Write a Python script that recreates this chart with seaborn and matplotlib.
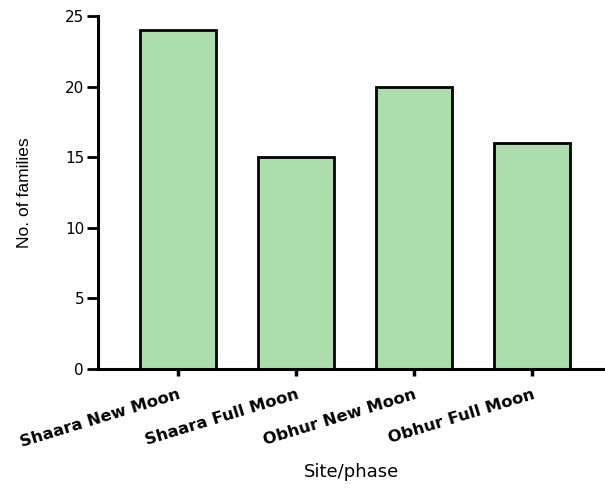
import matplotlib
matplotlib.use("Agg")
import matplotlib.pyplot as plt
import seaborn as sns
import pandas as pd

# Families recorded per site and lunar phase
categories = ["Shaara New Moon", "Shaara Full Moon", "Obhur New Moon", "Obhur Full Moon"]
families = [24, 15, 20, 16]

df = pd.DataFrame({"phase": categories, "families": families})

sns.set_theme(style="white")
plt.rcParams["font.family"] = ["DejaVu Sans"]
plt.rcParams["text.color"] = "black"
plt.rcParams["axes.labelcolor"] = "black"
plt.rcParams["xtick.color"] = "black"
plt.rcParams["ytick.color"] = "black"

fig = plt.figure(figsize=(6.05, 4.88), dpi=100)
ax = fig.add_axes([0.162, 0.244, 0.838, 0.723])

sns.barplot(data=df, x="phase", y="families", color="#ACDEAC", saturation=1,
            width=0.645, edgecolor="black", linewidth=2, ax=ax)

ax.set_xlim(-0.678, 3.62)
ax.set_ylim(0, 25)
ax.set_yticks([0, 5, 10, 15, 20, 25])

for side in ["top", "right"]:
    ax.spines[side].set_visible(False)
for side in ["left", "bottom"]:
    ax.spines[side].set_linewidth(2.2)
    ax.spines[side].set_color("black")

ax.tick_params(axis="y", direction="out", length=8, width=2, colors="black",
               labelsize=11, pad=2, left=True)
ax.tick_params(axis="x", direction="out", length=5, width=2.5, colors="black",
               bottom=True, pad=8)
ax.set_xticks(range(len(categories)))
ax.set_xticklabels(categories, rotation=17, ha="right", rotation_mode="anchor",
                   fontsize=11.8, fontweight="bold")

ax.set_ylabel("No. of families", fontsize=12.5,
              family=["Liberation Sans", "DejaVu Sans"])
ax.yaxis.set_label_coords(-0.131, 0.5)
ax.set_xlabel("Site/phase", fontsize=13, va="center")
ax.xaxis.set_label_coords(0.5, -0.292)

fig.savefig("out.png", dpi=100)
